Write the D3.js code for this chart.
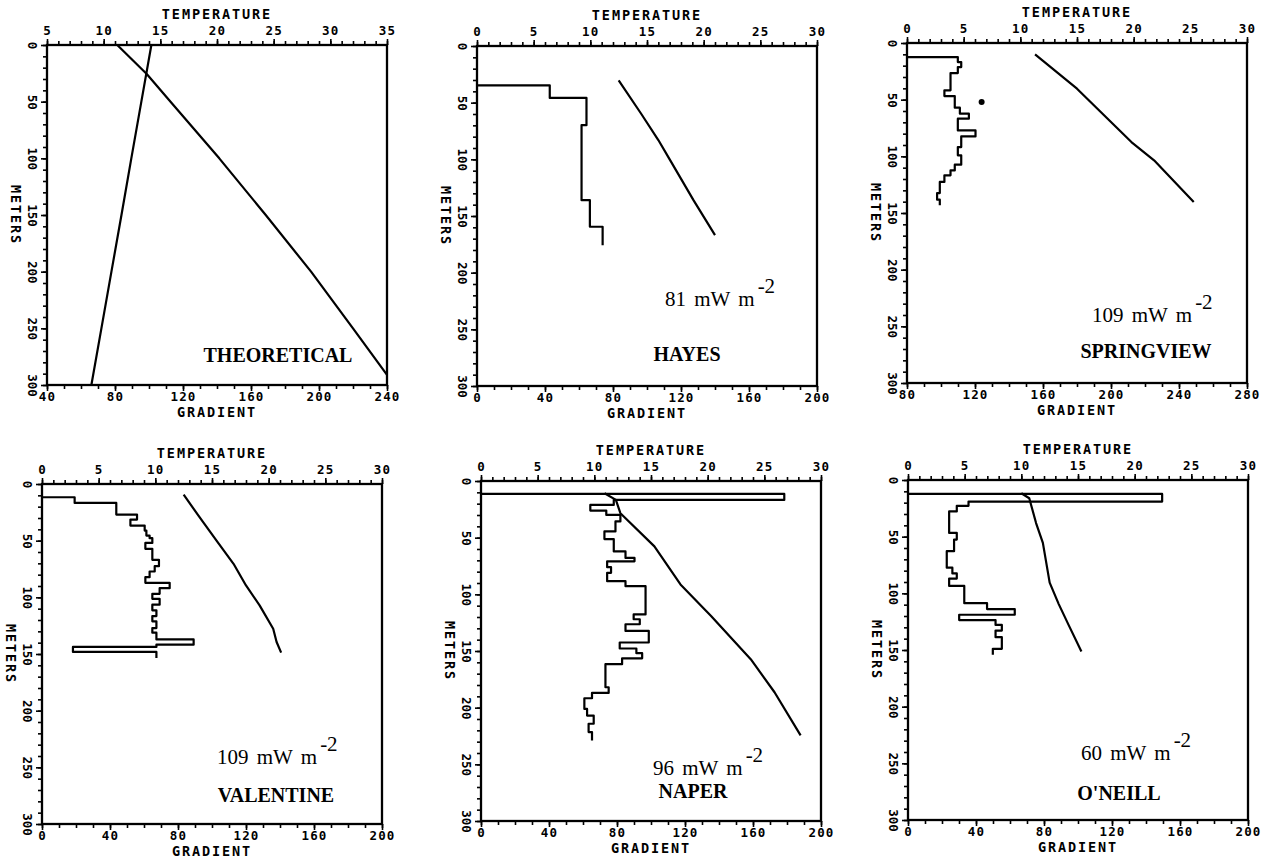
<!DOCTYPE html>
<html>
<head>
  <title>Temperature and gradient logs</title>
  <style>
    body { margin: 0; background: #fff; }
    .axis text { font-family: "DejaVu Sans Mono", monospace; font-weight: bold; font-size: 12.5px; fill: #000; }
    .axis.x text { letter-spacing: 1.2px; }
    .axis line { stroke: #000; stroke-width: 1.6px; }
    .axis .domain { display: none; }
    .axis-title { font-family: "DejaVu Sans Mono", monospace; font-weight: bold; font-size: 13.5px; letter-spacing: 1.9px; }
    .frame { fill: none; stroke: #000; stroke-width: 2.3px; }
    .trace { fill: none; stroke: #000; stroke-width: 2.2px; stroke-linejoin: round; }
    .station { font-family: "Liberation Serif", "DejaVu Serif", serif; font-weight: bold; font-size: 20px; }
    .flux { font-family: "Liberation Serif", "DejaVu Serif", serif; font-size: 21px; word-spacing: 3px; }
  </style>
</head>
<body>
  <script src="https://d3js.org/d3.v7.min.js"></script>
  <script>
    // Axis ticks
    const depthTicks = [0, 50, 100, 150, 200, 250, 300];
    const tempTicks = [0, 5, 10, 15, 20, 25, 30];
    const theoTempTicks = [5, 10, 15, 20, 25, 30, 35];
    const gradTicks = [0, 40, 80, 120, 160, 200];
    const theoGradTicks = [40, 80, 120, 160, 200, 240];
    const springGradTicks = [80, 120, 160, 200, 240, 280];

    // THEORETICAL
    const theoTempDepth = [0, 25.6, 50, 100, 150, 200, 250, 291];
    const theoTemp = [11.2, 13.8, 15.9, 20.2, 24.3, 28.3, 32.0, 35.0];
    const theoGradDepth = [0, 50, 100, 150, 200, 250, 300];
    const theoGrad = [101.4, 95.5, 89.6, 83.8, 77.9, 72.0, 66.1];

    // HAYES (gradient steps: value i holds from depth i to depth i+1)
    const hayesStepDepth = [34.7, 45.8, 69.9, 136.0, 159.5, 175.7];
    const hayesStepGrad = [42.8, 64.4, 61.5, 66.4, 73.9];
    const hayesTempDepth = [30.3, 60, 83, 100, 136, 166.9];
    const hayesTemp = [12.5, 14.5, 16.0, 17.0, 19.1, 21.0];

    // SPRINGVIEW
    const springStepDepth = [12.4, 16.8, 21.2, 26.5, 41.8, 46.8, 57.1, 62.4, 66.8, 77.1, 82.4, 91.8, 99.1, 107.4, 112.4, 116.8, 122.6, 132.4, 138.2, 143.2];
    const springStepGrad = [109.9, 111.9, 109.9, 105.6, 102.0, 108.1, 111.1, 116.4, 109.9, 120.3, 111.9, 109.9, 111.9, 108.1, 105.6, 102.0, 99.3, 97.7, 99.3];
    const springTempDepth = [10, 40.3, 87.4, 103.5, 140.3];
    const springTemp = [11.3, 15.0, 19.8, 21.8, 25.3];
    const springDot = [123.9, 52];

    // VALENTINE
    const valStepDepth = [11.7, 16.7, 27.0, 31.4, 36.7, 41.1, 45.5, 47.8, 52.0, 57.2, 66.9, 72.5, 77.2, 82.2, 87.2, 91.9, 96.9, 101.3, 106.5, 111.5, 116.5, 121.2, 127.1, 131.2, 137.1, 141.8, 143.8, 148.2, 153.5];
    const valStepGrad = [19.2, 43.7, 55.9, 52.0, 60.4, 61.4, 63.3, 64.9, 60.8, 64.9, 68.8, 66.3, 63.3, 60.8, 75.1, 69.2, 64.9, 69.2, 64.9, 67.3, 64.9, 67.3, 64.9, 67.3, 89.2, 67.3, 18.2, 67.3];
    const valTempDepth = [9.4, 29.3, 49.9, 70.4, 89.5, 107.1, 127.7, 139.4, 148.8];
    const valTemp = [12.5, 13.9, 15.4, 16.9, 18.0, 19.2, 20.4, 20.7, 21.1];

    // NAPER
    const naperStepDepth = [11.4, 16.7, 21.1, 26.1, 29.9, 35.7, 44.5, 51.2, 62.1, 67.9, 70.9, 76.0, 81.0, 88.4, 92.8, 117.7, 122.0, 126.4, 132.3, 142.5, 147.8, 151.9, 156.5, 161.6, 182.0, 187.0, 191.7, 201.1, 207.0, 214.2, 221.5, 228.9];
    const naperStepGrad = [178.4, 78.1, 64.3, 73.7, 82.0, 79.1, 72.6, 78.1, 85.0, 90.3, 74.2, 76.5, 74.2, 85.0, 96.8, 89.8, 93.4, 85.0, 98.7, 81.6, 91.4, 94.8, 83.0, 73.2, 75.1, 65.3, 60.8, 62.4, 66.3, 63.3, 65.3];
    const naperTempDepth = [10.8, 16.7, 28.4, 57.7, 91.3, 119.1, 157.2, 186.4, 224.5];
    const naperTemp = [10.9, 11.9, 12.3, 15.3, 17.6, 20.3, 23.8, 25.9, 28.2];

    // O'NEILL
    const oneillStepDepth = [12.3, 19.0, 22.8, 27.7, 46.7, 52.6, 62.8, 77.4, 82.4, 87.0, 93.5, 108.7, 113.9, 118.9, 123.6, 127.9, 132.9, 138.7, 149.0, 154.2];
    const oneillStepGrad = [149.5, 35.6, 28.7, 24.2, 28.7, 27.1, 22.8, 26.1, 28.7, 24.2, 33.1, 46.5, 62.8, 30.1, 51.5, 55.2, 51.5, 55.2, 49.9];
    const oneillTempDepth = [11.7, 16.1, 38, 55.5, 90.6, 109.5, 128.5, 151.3];
    const oneillTemp = [10.0, 10.7, 11.3, 11.9, 12.5, 13.3, 14.2, 15.3];

    const W = 340, H = 340;

    const panels = [
      { name: "THEORETICAL", left: 47, top: 45, tempTicks: theoTempTicks, gradTicks: theoGradTicks,
        tempDepth: theoTempDepth, temp: theoTemp, gradDepth: theoGradDepth, grad: theoGrad,
        nameX: 231, nameY: 317 },
      { name: "HAYES", flux: "81", left: 477, top: 46, tempTicks, gradTicks,
        tempDepth: hayesTempDepth, temp: hayesTemp, stepDepth: hayesStepDepth, stepGrad: hayesStepGrad,
        nameX: 210, nameY: 315, fluxX: 188, fluxY: 260 },
      { name: "SPRINGVIEW", flux: "109", left: 907, top: 43, tempTicks, gradTicks: springGradTicks,
        tempDepth: springTempDepth, temp: springTemp, stepDepth: springStepDepth, stepGrad: springStepGrad,
        dot: springDot, nameX: 239, nameY: 315, fluxX: 185, fluxY: 279 },
      { name: "VALENTINE", flux: "109", left: 42, top: 484, tempTicks, gradTicks,
        tempDepth: valTempDepth, temp: valTemp, stepDepth: valStepDepth, stepGrad: valStepGrad,
        nameX: 234, nameY: 318, fluxX: 175, fluxY: 280 },
      { name: "NAPER", flux: "96", left: 481, top: 481, tempTicks, gradTicks,
        tempDepth: naperTempDepth, temp: naperTemp, stepDepth: naperStepDepth, stepGrad: naperStepGrad,
        nameX: 212, nameY: 317, fluxX: 172, fluxY: 294 },
      { name: "O'NEILL", flux: "60", left: 908, top: 480, tempTicks, gradTicks,
        tempDepth: oneillTempDepth, temp: oneillTemp, stepDepth: oneillStepDepth, stepGrad: oneillStepGrad,
        nameX: 211, nameY: 320, fluxX: 173, fluxY: 280 }
    ];

    const svg = d3.select("body").append("svg")
      .attr("width", 1261)
      .attr("height", 860);

    panels.forEach(drawPanel);

    function drawPanel(p) {
      const g = svg.append("g").attr("transform", `translate(${p.left},${p.top})`);

      const tDom = d3.extent(p.tempTicks);
      const gDom = d3.extent(p.gradTicks);
      const xT = d3.scaleLinear().domain(tDom).range([0, W]);
      const xG = d3.scaleLinear().domain(gDom).range([0, W]);
      const y = d3.scaleLinear().domain([0, 300]).range([0, H]);

      // minor ticks
      g.append("g").attr("class", "axis")
        .call(d3.axisTop(xT).tickValues(d3.range(tDom[0], tDom[1] + 1, 1)).tickSize(4).tickFormat(""));
      g.append("g").attr("class", "axis").attr("transform", `translate(0,${H})`)
        .call(d3.axisBottom(xG).tickValues(d3.range(gDom[0], gDom[1] + 1, 10)).tickSize(4).tickFormat(""));
      g.append("g").attr("class", "axis")
        .call(d3.axisLeft(y).tickValues(d3.range(0, 301, 10)).tickSize(4).tickFormat(""));

      // major ticks + labels
      g.append("g").attr("class", "axis x")
        .call(d3.axisTop(xT).tickValues(p.tempTicks).tickSize(6).tickPadding(4.5));
      g.append("g").attr("class", "axis x").attr("transform", `translate(0,${H})`)
        .call(d3.axisBottom(xG).tickValues(p.gradTicks).tickSize(6).tickPadding(1.5));
      g.append("g").attr("class", "axis")
        .call(d3.axisLeft(y).tickValues(depthTicks).tickSize(6))
        .selectAll("text")
        .attr("x", 0).attr("y", 0)
        .attr("dy", "0.35em")
        .attr("text-anchor", "middle")
        .attr("transform", "translate(-15,0) rotate(90)");

      g.append("rect").attr("class", "frame").attr("width", W).attr("height", H);

      g.append("text").attr("class", "axis-title")
        .attr("x", W / 2).attr("y", -26).attr("text-anchor", "middle")
        .text("TEMPERATURE");
      g.append("text").attr("class", "axis-title")
        .attr("x", W / 2).attr("y", H + 32).attr("text-anchor", "middle")
        .text("GRADIENT");
      g.append("text").attr("class", "axis-title")
        .attr("text-anchor", "middle").attr("dy", "0.35em")
        .attr("transform", `translate(-31,${H / 2}) rotate(90)`)
        .text("METERS");

      // temperature profile
      const tempPts = p.tempDepth.map((d, i) => [p.temp[i], d]);
      g.append("path").attr("class", "trace")
        .attr("d", d3.line().x(q => xT(q[0])).y(q => y(q[1]))(tempPts));

      // gradient profile
      if (p.grad) {
        const gradPts = p.gradDepth.map((d, i) => [p.grad[i], d]);
        g.append("path").attr("class", "trace")
          .attr("d", d3.line().x(q => xG(q[0])).y(q => y(q[1]))(gradPts));
      }
      if (p.stepGrad) {
        const pts = [[gDom[0], p.stepDepth[0]]];
        p.stepGrad.forEach((v, i) => {
          pts.push([v, p.stepDepth[i]]);
          pts.push([v, p.stepDepth[i + 1]]);
        });
        g.append("path").attr("class", "trace")
          .attr("d", d3.line().x(q => xG(q[0])).y(q => y(q[1]))(pts));
      }
      if (p.dot) {
        g.append("circle").attr("cx", xG(p.dot[0])).attr("cy", y(p.dot[1])).attr("r", 3).attr("fill", "#000");
      }

      // labels
      g.append("text").attr("class", "station")
        .attr("x", p.nameX).attr("y", p.nameY).attr("text-anchor", "middle")
        .text(p.name);
      if (p.flux) {
        const t = g.append("text").attr("class", "flux")
          .attr("x", p.fluxX).attr("y", p.fluxY);
        t.append("tspan").text(`${p.flux} mW m`);
        t.append("tspan").attr("dx", 3).attr("dy", -13).text("-2");
      }
    }
  </script>
</body>
</html>
